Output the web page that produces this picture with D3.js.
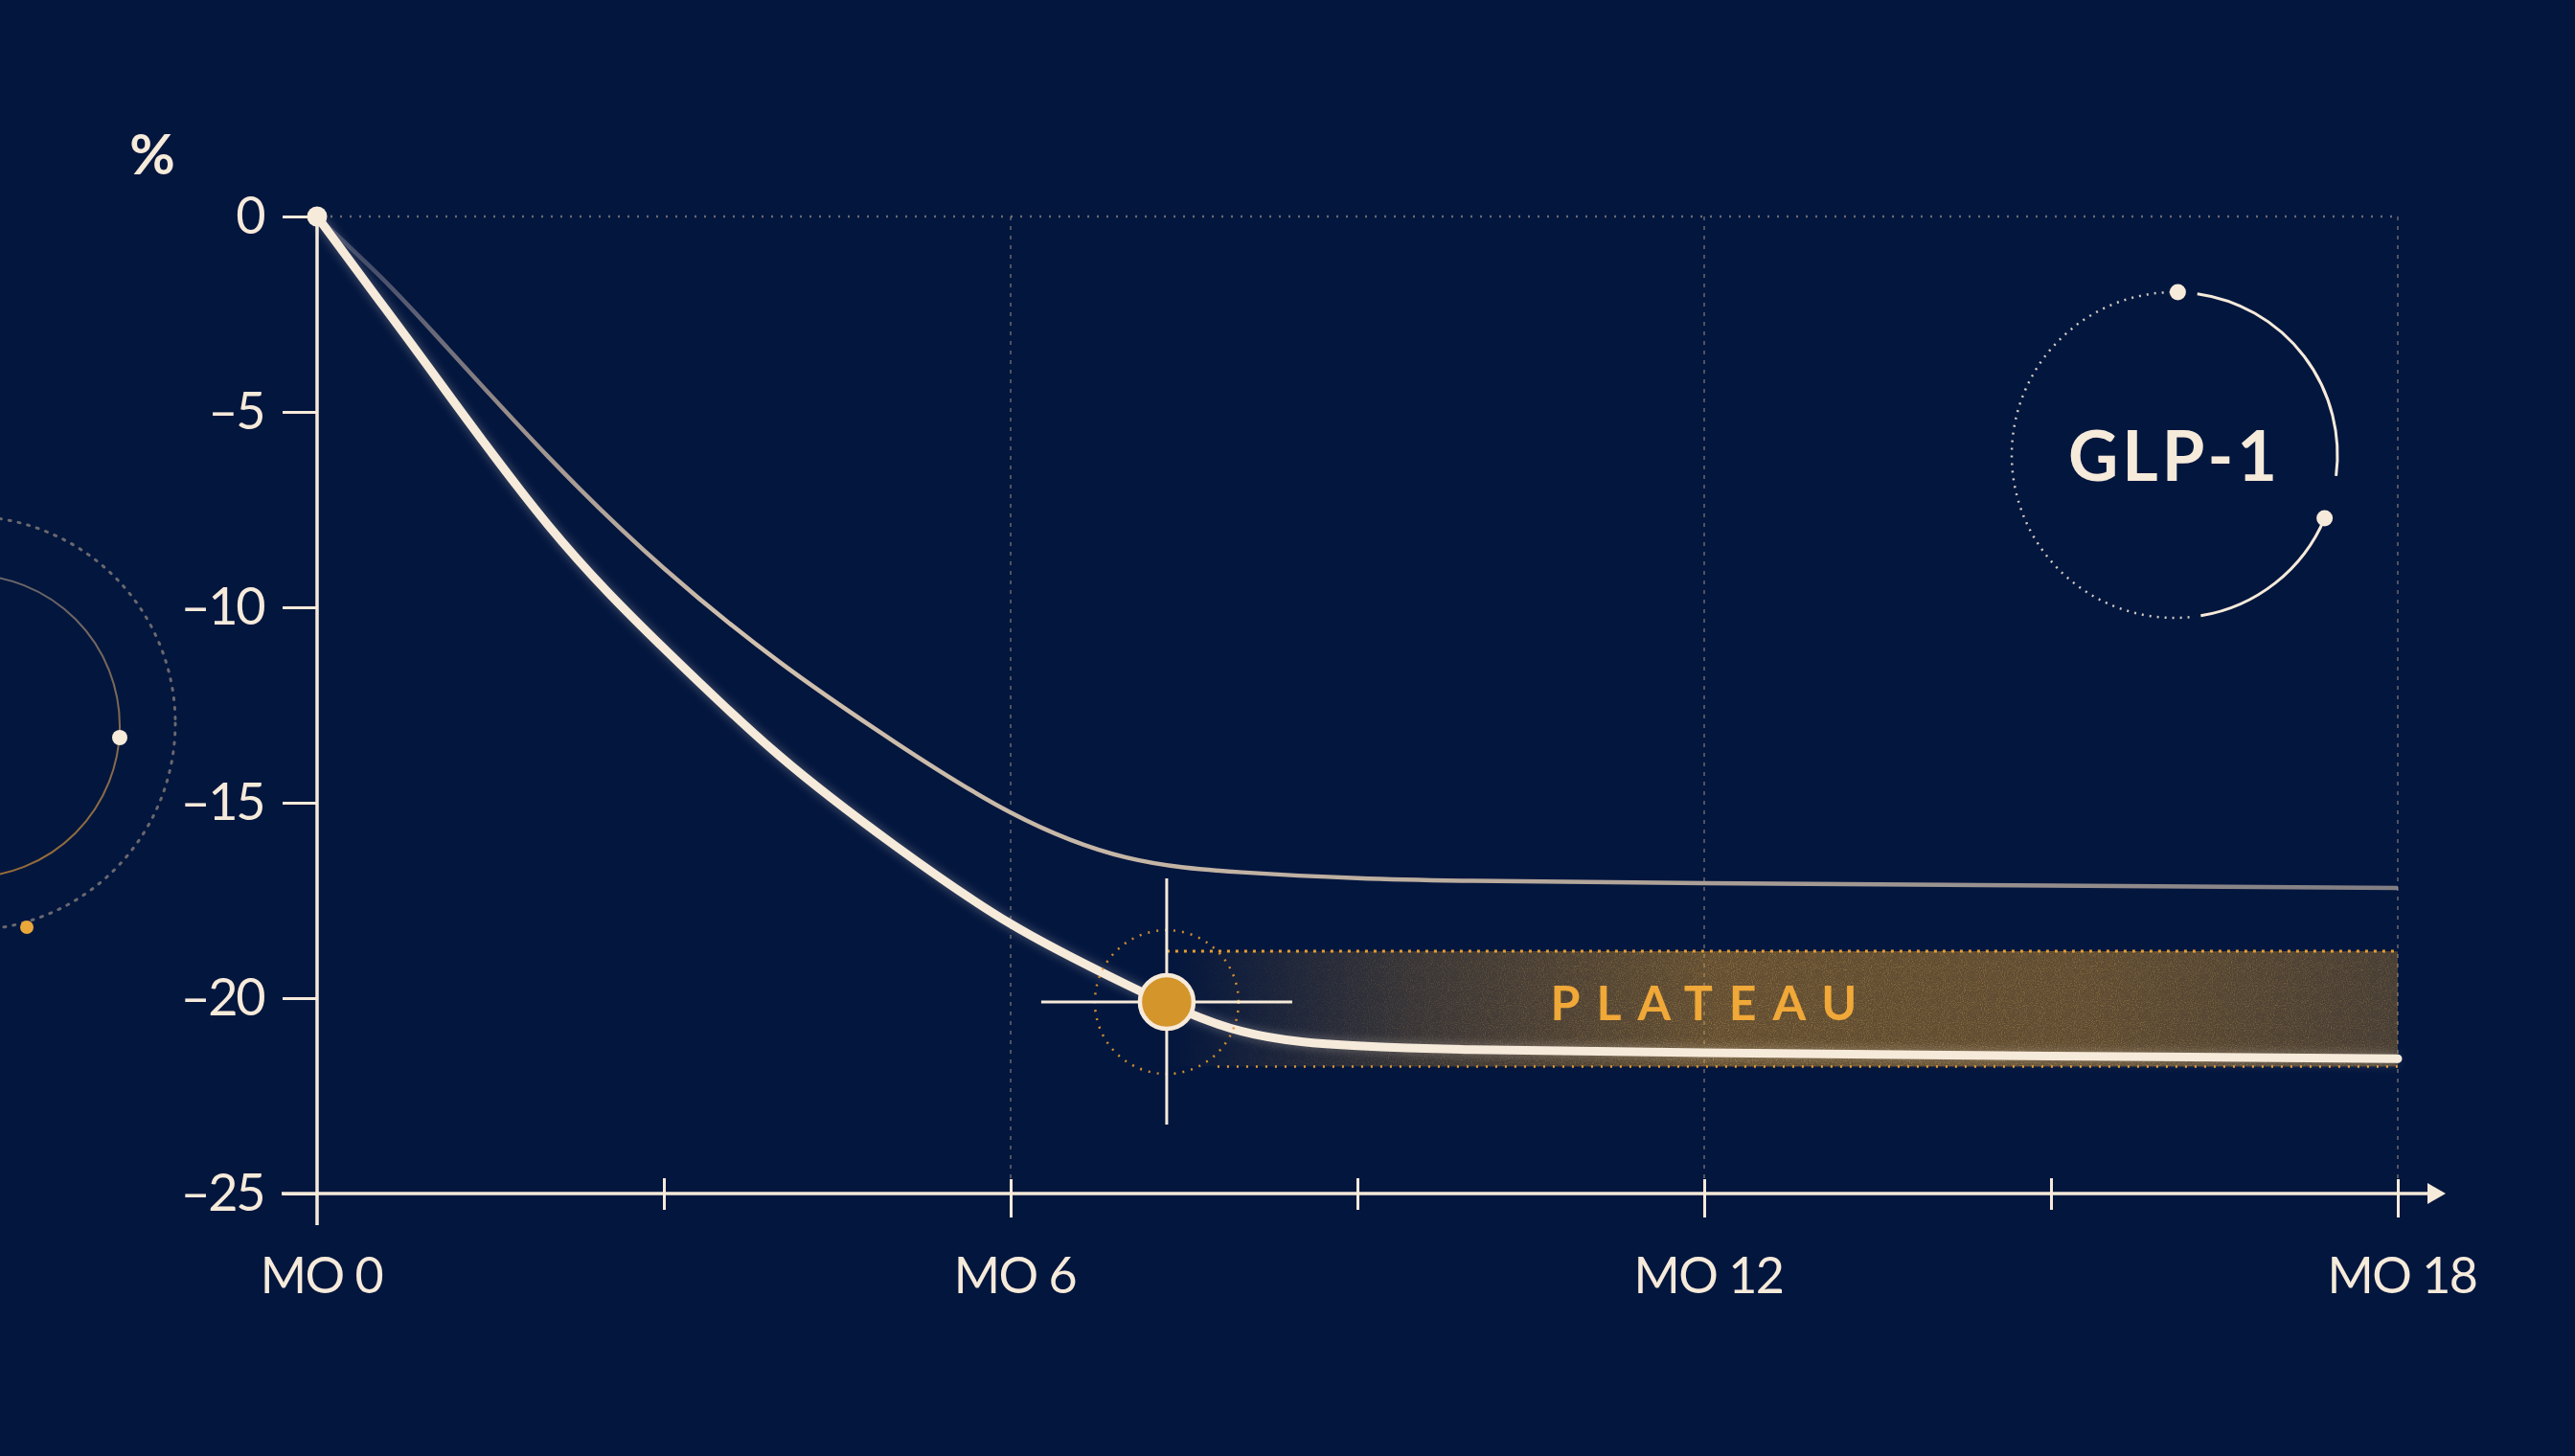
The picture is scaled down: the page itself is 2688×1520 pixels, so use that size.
<!DOCTYPE html>
<html>
<head>
<meta charset="utf-8">
<script src="https://cdn.jsdelivr.net/npm/d3@7"></script>
<style>
html, body { margin: 0; padding: 0; background: #03163e; overflow: hidden; }
svg { display: block; }
text { font-family: Lato, "Open Sans", sans-serif; }
</style>
</head>
<body>
<svg id="chart"></svg>
<script>
// data
var months = [0, 0.5, 1, 2, 3, 4, 5, 6, 7, 8, 9, 10, 12, 15, 18];
var glp1Loss = [0, -2.0, -4.0, -7.9, -11.05, -13.8, -16.1, -18.1, -19.65, -20.85, -21.22, -21.32, -21.4, -21.48, -21.55];
var otherLoss = [0, -1.4, -2.95, -6.15, -9.0, -11.4, -13.45, -15.25, -16.4, -16.78, -16.93, -17.0, -17.06, -17.12, -17.18];
var yTicks = [0, -5, -10, -15, -20, -25];
var xTicks = [0, 3, 6, 9, 12, 15, 18];
var xMajor = [0, 6, 12, 18];
var xLabels = ["MO 0", "MO 6", "MO 12", "MO 18"];
var gridMonths = [6, 12, 18];
var plateauPoint = [7.35, -20.1];
var plateauBand = [-18.8, -21.75];
var plateauText = "PLATEAU";
var badgeText = "GLP-1";
var unitText = "%";

var width = 2688, height = 1520;
var cream = "#f6eada", gold = "#d4952b", orange = "#f0a838";

var svg = d3.select("#chart").attr("width", width).attr("height", height);

var x = d3.scaleLinear().domain([0, 18]).range([331, 2503]);
var y = d3.scaleLinear().domain([0, -25]).range([226, 1246]);

var defs = svg.append("defs");

var thinGrad = defs.append("linearGradient").attr("id", "thinGrad")
	.attr("gradientUnits", "userSpaceOnUse")
	.attr("x1", x(0)).attr("x2", x(18)).attr("y1", 0).attr("y2", 0);
thinGrad.append("stop").attr("offset", "0%").attr("stop-color", "#4a5274").attr("stop-opacity", 0.6);
thinGrad.append("stop").attr("offset", "9%").attr("stop-color", "#a0948e").attr("stop-opacity", 0.95);
thinGrad.append("stop").attr("offset", "20%").attr("stop-color", "#d2c1ae").attr("stop-opacity", 1);
thinGrad.append("stop").attr("offset", "55%").attr("stop-color", "#c4b4a3").attr("stop-opacity", 0.95);
thinGrad.append("stop").attr("offset", "100%").attr("stop-color", "#aaa09a").attr("stop-opacity", 0.75);

var bandGrad = defs.append("linearGradient").attr("id", "bandGrad")
	.attr("x1", 0).attr("x2", 1).attr("y1", 0).attr("y2", 0);
bandGrad.append("stop").attr("offset", "0%").attr("stop-color", "#f0a020").attr("stop-opacity", 0);
bandGrad.append("stop").attr("offset", "20%").attr("stop-color", "#f0a020").attr("stop-opacity", 0.22);
bandGrad.append("stop").attr("offset", "45%").attr("stop-color", "#f0a020").attr("stop-opacity", 0.4);
bandGrad.append("stop").attr("offset", "75%").attr("stop-color", "#f0a020").attr("stop-opacity", 0.38);
bandGrad.append("stop").attr("offset", "100%").attr("stop-color", "#f0a020").attr("stop-opacity", 0.28);

var ringGrad = defs.append("linearGradient").attr("id", "ringGrad")
	.attr("x1", 0).attr("x2", 0).attr("y1", 0).attr("y2", 1);
ringGrad.append("stop").attr("offset", "0%").attr("stop-color", "#8a7f78");
ringGrad.append("stop").attr("offset", "100%").attr("stop-color", "#c88a35");

var grain = defs.append("filter").attr("id", "grain")
	.attr("x", 0).attr("y", 0).attr("width", "100%").attr("height", "100%");
grain.append("feTurbulence").attr("type", "fractalNoise").attr("baseFrequency", 0.95)
	.attr("numOctaves", 2).attr("seed", 4).attr("result", "n");
grain.append("feColorMatrix").attr("in", "n").attr("type", "matrix")
	.attr("values", "0 0 0 0 0.95  0 0 0 0 0.6  0 0 0 0 0.12  0 0 0 2.2 -1.0").attr("result", "c");
grain.append("feComposite").attr("in", "c").attr("in2", "SourceGraphic").attr("operator", "in");

var glow = defs.append("filter").attr("id", "glow").attr("x", "-10%").attr("y", "-10%").attr("width", "120%").attr("height", "120%");
glow.append("feGaussianBlur").attr("stdDeviation", 5);

svg.append("rect").attr("width", width).attr("height", height).attr("fill", "#03163e");

// left decoration
var deco = svg.append("g").attr("class", "deco");
deco.append("circle").attr("cx", -33).attr("cy", 758).attr("r", 158)
	.attr("fill", "none").attr("stroke", "url(#ringGrad)").attr("stroke-width", 2).attr("opacity", 0.75);
deco.append("circle").attr("cx", -33).attr("cy", 755).attr("r", 216)
	.attr("fill", "none").attr("stroke", "#857d7a").attr("stroke-width", 3)
	.attr("stroke-dasharray", "2 8").attr("stroke-linecap", "round").attr("opacity", 0.8);
deco.append("circle").attr("cx", 125).attr("cy", 770).attr("r", 8).attr("fill", cream);
deco.append("circle").attr("cx", 28).attr("cy", 968).attr("r", 7).attr("fill", "#eba83a");

// grid
var grid = svg.append("g").attr("class", "grid");
grid.append("line")
	.attr("x1", x(0) + 14).attr("x2", x(18))
	.attr("y1", y(0)).attr("y2", y(0))
	.attr("stroke", "#8e877e").attr("stroke-width", 2.5)
	.attr("stroke-dasharray", "2 8").attr("opacity", 0.75);
grid.selectAll(".vgrid").data(gridMonths).enter().append("line")
	.attr("class", "vgrid")
	.attr("x1", function(d) { return x(d) }).attr("x2", function(d) { return x(d) })
	.attr("y1", y(0)).attr("y2", y(-25) - 16)
	.attr("stroke", "#8e877e").attr("stroke-width", 2)
	.attr("stroke-dasharray", "4 6").attr("opacity", 0.55);

// plateau band
var band = svg.append("g").attr("class", "band");
var bx = x(plateauPoint[0]), bw = x(18) - x(plateauPoint[0]);
band.append("rect")
	.attr("x", bx).attr("y", y(plateauBand[0]))
	.attr("width", bw).attr("height", y(plateauBand[1]) - y(plateauBand[0]))
	.attr("fill", "url(#bandGrad)");
band.append("rect")
	.attr("x", bx).attr("y", y(plateauBand[0]))
	.attr("width", bw).attr("height", y(plateauBand[1]) - y(plateauBand[0]))
	.attr("fill", "url(#bandGrad)").attr("filter", "url(#grain)").attr("opacity", 0.9);
band.append("line")
	.attr("x1", bx).attr("x2", x(18))
	.attr("y1", y(plateauBand[0])).attr("y2", y(plateauBand[0]))
	.attr("stroke", "#e89e30").attr("stroke-width", 3).attr("stroke-dasharray", "3 6");
band.append("line")
	.attr("x1", bx + 53).attr("x2", x(18))
	.attr("y1", y(plateauBand[1])).attr("y2", y(plateauBand[1]))
	.attr("stroke", "#e89e30").attr("stroke-width", 2.5).attr("stroke-dasharray", "2 8");
band.append("text")
	.attr("x", x(12) + 8).attr("y", y(-20.57))
	.attr("text-anchor", "middle")
	.attr("fill", orange).attr("font-size", 50).attr("font-weight", 700)
	.attr("letter-spacing", 17)
	.text(plateauText);

// axes
var yAxis = svg.append("g").attr("class", "y axis")
	.attr("transform", "translate(" + x(0) + ",0)")
	.call(d3.axisLeft(y).tickValues(yTicks).tickSize(36).tickPadding(20)
		.tickFormat(function(d) { return d < 0 ? "\u2013" + (-d) : d }));
yAxis.select(".domain").remove();
yAxis.selectAll(".tick line").attr("stroke", cream).attr("stroke-width", 3);
yAxis.selectAll(".tick text").attr("fill", cream).attr("font-size", 54)
	.attr("letter-spacing", -2.5)
	.attr("font-family", "Lato, sans-serif");
yAxis.append("line")
	.attr("x1", 0).attr("x2", 0).attr("y1", y(0)).attr("y2", y(-25) + 33)
	.attr("stroke", cream).attr("stroke-width", 3.5);

var xAxis = svg.append("g").attr("class", "x axis")
	.attr("transform", "translate(0," + y(-25) + ")")
	.call(d3.axisBottom(x).tickValues(xTicks).tickSize(0).tickPadding(67)
		.tickFormat(function(d) { var i = xMajor.indexOf(d); return i < 0 ? "" : xLabels[i] }));
xAxis.select(".domain").remove();
xAxis.selectAll(".tick line")
	.attr("y1", function(d) { return xMajor.indexOf(d) < 0 ? -16 : -15 })
	.attr("y2", function(d) { return xMajor.indexOf(d) < 0 ? 17 : 25 })
	.attr("stroke", cream).attr("stroke-width", 3)
	.style("display", function(d) { return d === 0 ? "none" : null });
xAxis.selectAll(".tick text").attr("fill", cream).attr("font-size", 52).attr("dx", 4)
	.attr("letter-spacing", -1.5)
	.attr("font-family", "Lato, sans-serif");
xAxis.append("line")
	.attr("x1", x(0) - 37).attr("x2", x(18) + 34).attr("y1", 0).attr("y2", 0)
	.attr("stroke", cream).attr("stroke-width", 3.5);
xAxis.append("path")
	.attr("d", "M" + (x(18) + 31) + ",-11L" + (x(18) + 50) + ",0L" + (x(18) + 31) + ",11Z")
	.attr("fill", cream);

svg.append("text")
	.attr("x", 159).attr("y", 182).attr("text-anchor", "middle")
	.attr("fill", cream).attr("font-size", 58).attr("font-weight", 700)
	.text(unitText);

// curves
var line = d3.line()
	.x(function(d) { return x(d[0]) })
	.y(function(d) { return y(d[1]) })
	.curve(d3.curveNatural);

var otherData = months.map(function(m, i) { return [m, otherLoss[i]] });
var glpData = months.map(function(m, i) { return [m, glp1Loss[i]] });

var curves = svg.append("g").attr("class", "curves");
curves.append("path").attr("d", line(otherData))
	.attr("fill", "none").attr("stroke", "url(#thinGrad)").attr("stroke-width", 4.5);
curves.append("path").attr("d", line(glpData))
	.attr("fill", "none").attr("stroke", cream).attr("stroke-width", 13)
	.attr("opacity", 0.22).attr("filter", "url(#glow)");
curves.append("path").attr("d", line(glpData))
	.attr("fill", "none").attr("stroke", cream).attr("stroke-width", 9)
	.attr("stroke-linecap", "round");

svg.append("circle").attr("cx", x(0)).attr("cy", y(0)).attr("r", 10.5).attr("fill", cream);

// plateau marker
var mk = svg.append("g").attr("class", "marker")
	.attr("transform", "translate(" + x(plateauPoint[0]) + "," + y(plateauPoint[1]) + ")");
mk.append("circle").attr("r", 75).attr("fill", "none")
	.attr("stroke", "#e39a2d").attr("stroke-width", 2.5)
	.attr("stroke-dasharray", "2 7").attr("opacity", 0.9);
mk.append("line").attr("x1", -131).attr("x2", 131).attr("y1", 0).attr("y2", 0)
	.attr("stroke", cream).attr("stroke-width", 3);
mk.append("line").attr("x1", 0).attr("x2", 0).attr("y1", -129).attr("y2", 128)
	.attr("stroke", cream).attr("stroke-width", 3);
mk.append("circle").attr("r", 28).attr("fill", gold)
	.attr("stroke", cream).attr("stroke-width", 4.5);

// GLP-1 badge
var badge = svg.append("g").attr("class", "badge").attr("transform", "translate(2270,475)");
var R = 170;
function arcPath(a0, a1) {
	var p = d3.path();
	p.arc(0, 0, R, a0 - Math.PI / 2, a1 - Math.PI / 2);
	return p.toString();
}
badge.append("path").attr("d", arcPath(0.14, 1.70))
	.attr("fill", "none").attr("stroke", cream).attr("stroke-width", 3);
badge.append("path").attr("d", arcPath(1.97, 2.98))
	.attr("fill", "none").attr("stroke", cream).attr("stroke-width", 3);
badge.append("path").attr("d", arcPath(3.05, 6.26))
	.attr("fill", "none").attr("stroke", cream).attr("stroke-width", 2.5)
	.attr("stroke-dasharray", "2 6").attr("opacity", 0.85);
[0.02, 1.97].forEach(function(a) {
	badge.append("circle")
		.attr("cx", R * Math.sin(a)).attr("cy", -R * Math.cos(a))
		.attr("r", 8.5).attr("fill", cream);
});
badge.append("text")
	.attr("x", 0).attr("y", 27).attr("text-anchor", "middle")
	.attr("fill", cream).attr("font-size", 72).attr("font-weight", 700)
	.attr("letter-spacing", 4)
	.text(badgeText);
</script>
</body>
</html>
